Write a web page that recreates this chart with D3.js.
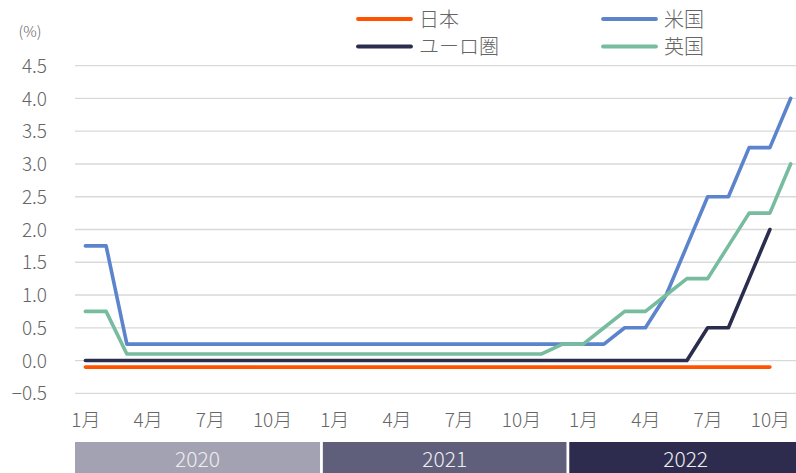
<!DOCTYPE html>
<html><head><meta charset="utf-8">
<script src="https://cdn.jsdelivr.net/npm/d3@7"></script>
<style>
html,body{margin:0;padding:0;background:#fff;}
svg text{font-family:"Noto Sans CJK JP","Noto Sans",sans-serif;font-weight:300;}
</style></head>
<body>
<svg id="chart" width="796" height="473"></svg>
<script>
// ---- data ----
const months = [
 "2020-01","2020-02","2020-03","2020-04","2020-05","2020-06","2020-07","2020-08","2020-09","2020-10","2020-11","2020-12",
 "2021-01","2021-02","2021-03","2021-04","2021-05","2021-06","2021-07","2021-08","2021-09","2021-10","2021-11","2021-12",
 "2022-01","2022-02","2022-03","2022-04","2022-05","2022-06","2022-07","2022-08","2022-09","2022-10","2022-11"
];
const monthLabels = ["1月","2月","3月","4月","5月","6月","7月","8月","9月","10月","11月","12月"];
const tickMonthLabels = ["1月","4月","7月","10月"];
const years = ["2020","2021","2022"];
const yTicks = [-0.5,0.0,0.5,1.0,1.5,2.0,2.5,3.0,3.5,4.0,4.5];

const japan = [-0.1,-0.1,-0.1,-0.1,-0.1,-0.1,-0.1,-0.1,-0.1,-0.1,-0.1,-0.1,
               -0.1,-0.1,-0.1,-0.1,-0.1,-0.1,-0.1,-0.1,-0.1,-0.1,-0.1,-0.1,
               -0.1,-0.1,-0.1,-0.1,-0.1,-0.1,-0.1,-0.1,-0.1,-0.1];
const us    = [1.75,1.75,0.25,0.25,0.25,0.25,0.25,0.25,0.25,0.25,0.25,0.25,
               0.25,0.25,0.25,0.25,0.25,0.25,0.25,0.25,0.25,0.25,0.25,0.25,
               0.25,0.25,0.5,0.5,1.0,1.75,2.5,2.5,3.25,3.25,4.0];
const euro  = [0,0,0,0,0,0,0,0,0,0,0,0,
               0,0,0,0,0,0,0,0,0,0,0,0,
               0,0,0,0,0,0,0.5,0.5,1.25,2.0];
const uk    = [0.75,0.75,0.1,0.1,0.1,0.1,0.1,0.1,0.1,0.1,0.1,0.1,
               0.1,0.1,0.1,0.1,0.1,0.1,0.1,0.1,0.1,0.1,0.1,0.25,
               0.25,0.5,0.75,0.75,1.0,1.25,1.25,1.75,2.25,2.25,3.0];

const seriesNames = ["日本","米国","ユーロ圏","英国"];
const seriesValues = [japan, us, euro, uk];
const seriesColors = ["#FF5300","#5B84CD","#2B2D4E","#77BC9F"];

// ---- layout ----
const W = 796, H = 473;
const svg = d3.select("#chart");
const textColor = "#666666";

const x = d3.scalePoint().domain(months).range([75, 801]).padding(0.5);
const y = d3.scaleLinear().domain([-0.5, 4.5]).range([393.3, 65.7]);

// gridlines
svg.append("g").selectAll("line").data(yTicks).join("line")
  .attr("x1", 75).attr("x2", W)
  .attr("y1", d => y(d)).attr("y2", d => y(d))
  .attr("stroke", "#D9D9D9").attr("stroke-width", 1.3);

// y axis labels
const yAxis = d3.axisLeft(y).tickValues(yTicks).tickFormat(d3.format(".1f")).tickSize(0).tickPadding(0);
const gy = svg.append("g").attr("transform", "translate(47,0)").call(yAxis);
gy.select(".domain").remove();
gy.selectAll("text").attr("font-size", 19).attr("fill", textColor)
  .attr("font-family", "\"Noto Sans CJK JP\",sans-serif").attr("font-weight", 300).attr("dy", "0.35em");

// unit label
svg.append("text").attr("x", 30).attr("y", 30).attr("text-anchor", "middle")
  .attr("dominant-baseline", "central").attr("font-size", 15).attr("fill", textColor).text("(%)");

// x axis labels
const tickMonths = months.filter(m => tickMonthLabels.includes(monthLabels[+m.slice(5) - 1]));
const xAxis = d3.axisBottom(x).tickValues(tickMonths)
  .tickFormat(m => monthLabels[+m.slice(5) - 1]).tickSize(0).tickPadding(0);
const gx = svg.append("g").attr("transform", "translate(0,420)").call(xAxis);
gx.select(".domain").remove();
gx.selectAll("text").attr("font-size", 19).attr("fill", textColor)
  .attr("font-family", "\"Noto Sans CJK JP\",sans-serif").attr("font-weight", 300).attr("dy", "0.35em");

// year boxes
const yearColors = ["#A3A2B2","#5F5F7C","#2D2C4E"];
const yb = d3.scaleLinear().domain([0, 35.4]).range([75, 802]);
const yearSpans = years.map((yr, i) => {
  const s = months.findIndex(m => m.startsWith(yr));
  const e = i < years.length - 1 ? months.findIndex(m => m.startsWith(years[i + 1])) : 35.4;
  return {yr, x0: yb(s) + (i > 0 ? 1.4 : 0), x1: yb(e) - (i < years.length - 1 ? 1.4 : 0), c: yearColors[i]};
});
const gyr = svg.append("g");
gyr.selectAll("rect").data(yearSpans).join("rect")
  .attr("x", d => d.x0).attr("width", d => d.x1 - d.x0)
  .attr("y", 442).attr("height", H - 442).attr("fill", d => d.c);
gyr.selectAll("text").data(yearSpans).join("text")
  .attr("x", d => (d.x0 + d.x1) / 2).attr("y", 458)
  .attr("text-anchor", "middle").attr("dominant-baseline", "central")
  .attr("font-size", 21).attr("fill", "#EDEDF0").text(d => d.yr);

// lines
const line = d3.line().x((d, i) => x(months[i])).y(d => y(d));
svg.append("g").selectAll("path").data(seriesValues).join("path")
  .attr("d", d => line(d)).attr("fill", "none")
  .attr("stroke", (d, i) => seriesColors[i]).attr("stroke-width", 3.6)
  .attr("stroke-linejoin", "round").attr("stroke-linecap", "round");

// legend
const legPos = [[358, 19], [603, 19], [358, 46.5], [603, 46.5]];
const leg = svg.append("g").selectAll("g").data(seriesNames).join("g")
  .attr("transform", (d, i) => `translate(${legPos[i][0]},${legPos[i][1]})`);
leg.append("line").attr("x1", 0).attr("x2", 53).attr("y1", 0).attr("y2", 0)
  .attr("stroke", (d, i) => seriesColors[i]).attr("stroke-width", 3.8).attr("stroke-linecap", "round");
leg.append("text").attr("x", 61).attr("y", -1).attr("dominant-baseline", "central")
  .attr("font-size", 20).attr("fill", textColor).text(d => d);
</script>
</body></html>
